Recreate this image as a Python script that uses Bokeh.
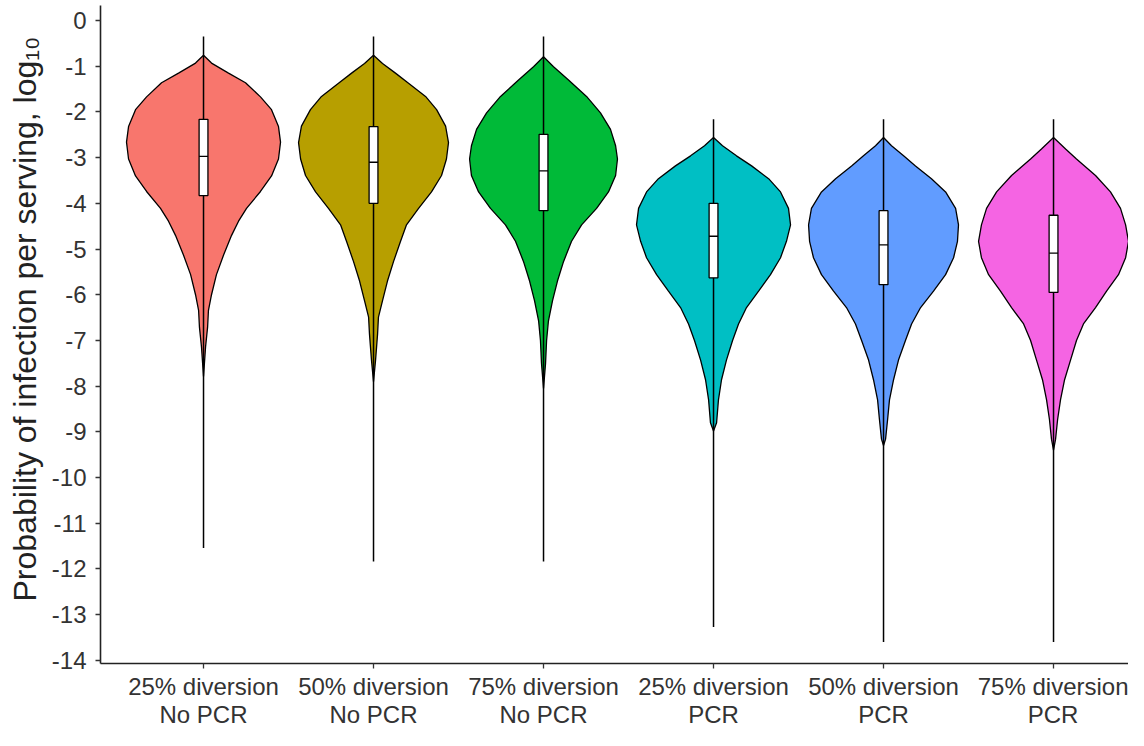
from bokeh.plotting import figure
from bokeh.models import FixedTicker, Range1d, Title
from bokeh.embed import file_html
from bokeh.resources import INLINE

# ---------------- data ----------------
categories = ["25% diversion\nNo PCR", "50% diversion\nNo PCR", "75% diversion\nNo PCR",
              "25% diversion\nPCR", "50% diversion\nPCR", "75% diversion\nPCR"]
colors = ["#F8766D", "#B79F00", "#00BA38", "#00BFC4", "#619CFF", "#F564E3"]

# violin outlines: log10 probability levels and half-widths (category units)
v1_y = [-0.76, -0.93, -1.15, -1.36, -1.67, -1.95, -2.32, -2.66, -3.03, -3.40, -3.74, -4.11,
        -4.39, -4.70, -5.13, -5.56, -6.00, -6.34, -6.71, -7.14, -7.79]
v1_w = [0, .047, .147, .247, .335, .400, .441, .453, .441, .400, .335, .253,
        .206, .165, .118, .076, .047, .029, .024, .012, 0]
v2_y = [-0.76, -0.94, -1.15, -1.37, -1.66, -1.95, -2.31, -2.67, -3.03, -3.39, -3.75, -4.11,
        -4.47, -4.83, -5.27, -5.70, -6.13, -6.49, -6.85, -7.43, -7.90]
v2_w = [0, .053, .129, .206, .306, .371, .424, .441, .429, .400, .341, .265,
        .194, .159, .118, .082, .053, .029, .024, .012, 0]
v3_y = [-0.79, -1.01, -1.30, -1.66, -2.02, -2.38, -2.74, -3.03, -3.39, -3.75, -4.11, -4.47,
        -4.83, -5.27, -5.70, -6.13, -6.57, -7.00, -7.50, -8.05]
v3_w = [0, .059, .147, .253, .335, .394, .424, .435, .424, .382, .312, .224,
        .165, .118, .082, .053, .029, .018, .012, 0]
v4_y = [-2.56, -2.74, -2.96, -3.18, -3.46, -3.75, -4.11, -4.47, -4.83, -5.19, -5.56, -5.92,
        -6.28, -6.64, -7.00, -7.43, -7.86, -8.30, -8.80, -8.98]
v4_w = [0, .053, .135, .224, .324, .394, .441, .453, .429, .394, .335, .265,
        .194, .147, .112, .076, .047, .029, .018, 0]
v5_y = [-2.56, -2.74, -2.96, -3.18, -3.46, -3.75, -4.11, -4.47, -4.83, -5.19, -5.56, -5.92,
        -6.28, -6.64, -7.00, -7.43, -7.86, -8.30, -8.73, -9.16, -9.30]
v5_w = [0, .047, .118, .188, .282, .365, .424, .441, .435, .412, .365, .294,
        .218, .165, .129, .088, .059, .035, .024, .012, 0]
v6_y = [-2.56, -2.81, -3.03, -3.39, -3.75, -4.11, -4.47, -4.83, -5.19, -5.56, -5.92, -6.28,
        -6.64, -7.00, -7.43, -7.86, -8.30, -8.73, -9.16, -9.40]
v6_w = [0, .071, .135, .247, .335, .394, .424, .441, .424, .382, .312, .247,
        .176, .135, .100, .065, .041, .024, .012, 0]

violin_y = [v1_y, v2_y, v3_y, v4_y, v5_y, v6_y]
violin_w = [v1_w, v2_w, v3_w, v4_w, v5_w, v6_w]

# box plot statistics
box_q1 = [-3.83, -4.00, -4.16, -5.63, -5.78, -5.95]
box_med = [-2.97, -3.10, -3.29, -4.72, -4.91, -5.09]
box_q3 = [-2.16, -2.32, -2.49, -4.00, -4.16, -4.26]
whisk_lo = [-11.54, -11.84, -11.84, -13.27, -13.60, -13.60]
whisk_hi = [-0.35, -0.35, -0.35, -2.16, -2.16, -2.16]

y_ticks = list(range(-14, 1))
y_title = "Probability of infection per serving, log\u2081\u2080"

# ---------------- figure ----------------
FONT = "Liberation Sans"
p = figure(width=1128, height=730, output_backend="svg", toolbar_location=None,
           x_range=Range1d(0.394, 6.441), y_range=Range1d(-14.07, 0.33),
           min_border_left=100, min_border_right=0, min_border_top=5, min_border_bottom=0)
p.outline_line_color = None
p.xgrid.grid_line_color = None
p.ygrid.grid_line_color = None
p.background_fill_color = "white"

pos = list(range(1, len(categories) + 1))
for i, c in enumerate(pos):
    ys = violin_y[i]
    ws = violin_w[i]
    px = [c + w for w in ws] + [c - w for w in reversed(ws)]
    py = list(ys) + list(reversed(ys))
    p.patch(px, py, fill_color=colors[i], line_color="black", line_width=1.3)

p.segment(x0=pos, y0=whisk_lo, x1=pos, y1=whisk_hi, line_color="black", line_width=1.5)
bw = 0.026
p.quad(left=[c - bw for c in pos], right=[c + bw for c in pos], bottom=box_q1, top=box_q3,
       fill_color="white", line_color="black", line_width=1.3)
p.segment(x0=[c - bw for c in pos], y0=box_med, x1=[c + bw for c in pos], y1=box_med,
          line_color="black", line_width=1.3)

# axes
for ax in (p.xaxis[0], p.yaxis[0]):
    ax.axis_line_color = "#222222"
    ax.axis_line_width = 1.6
    ax.major_tick_line_color = "#333333"
    ax.major_tick_line_width = 1.3
    ax.major_tick_out = 5
    ax.major_tick_in = 0
    ax.minor_tick_line_color = None
    ax.major_label_text_font = FONT
    ax.major_label_text_font_size = "24px"
    ax.major_label_text_color = "#333333"
    ax.major_label_standoff = 4

p.xaxis.ticker = FixedTicker(ticks=pos)
p.xaxis.major_label_overrides = {c: categories[i] for i, c in enumerate(pos)}
p.xaxis.major_label_text_line_height = 1.05
p.yaxis.ticker = FixedTicker(ticks=y_ticks)
p.yaxis.major_label_overrides = {t: str(t) for t in y_ticks}
p.yaxis.major_label_standoff = 9

p.add_layout(Title(text=y_title, align="left", offset=62, text_font=FONT,
                   text_font_size="32px", text_font_style="normal", text_color="#222222",
                   vertical_align="middle", standoff=10), "left")

open("out.html", "w").write(file_html(p, INLINE))
